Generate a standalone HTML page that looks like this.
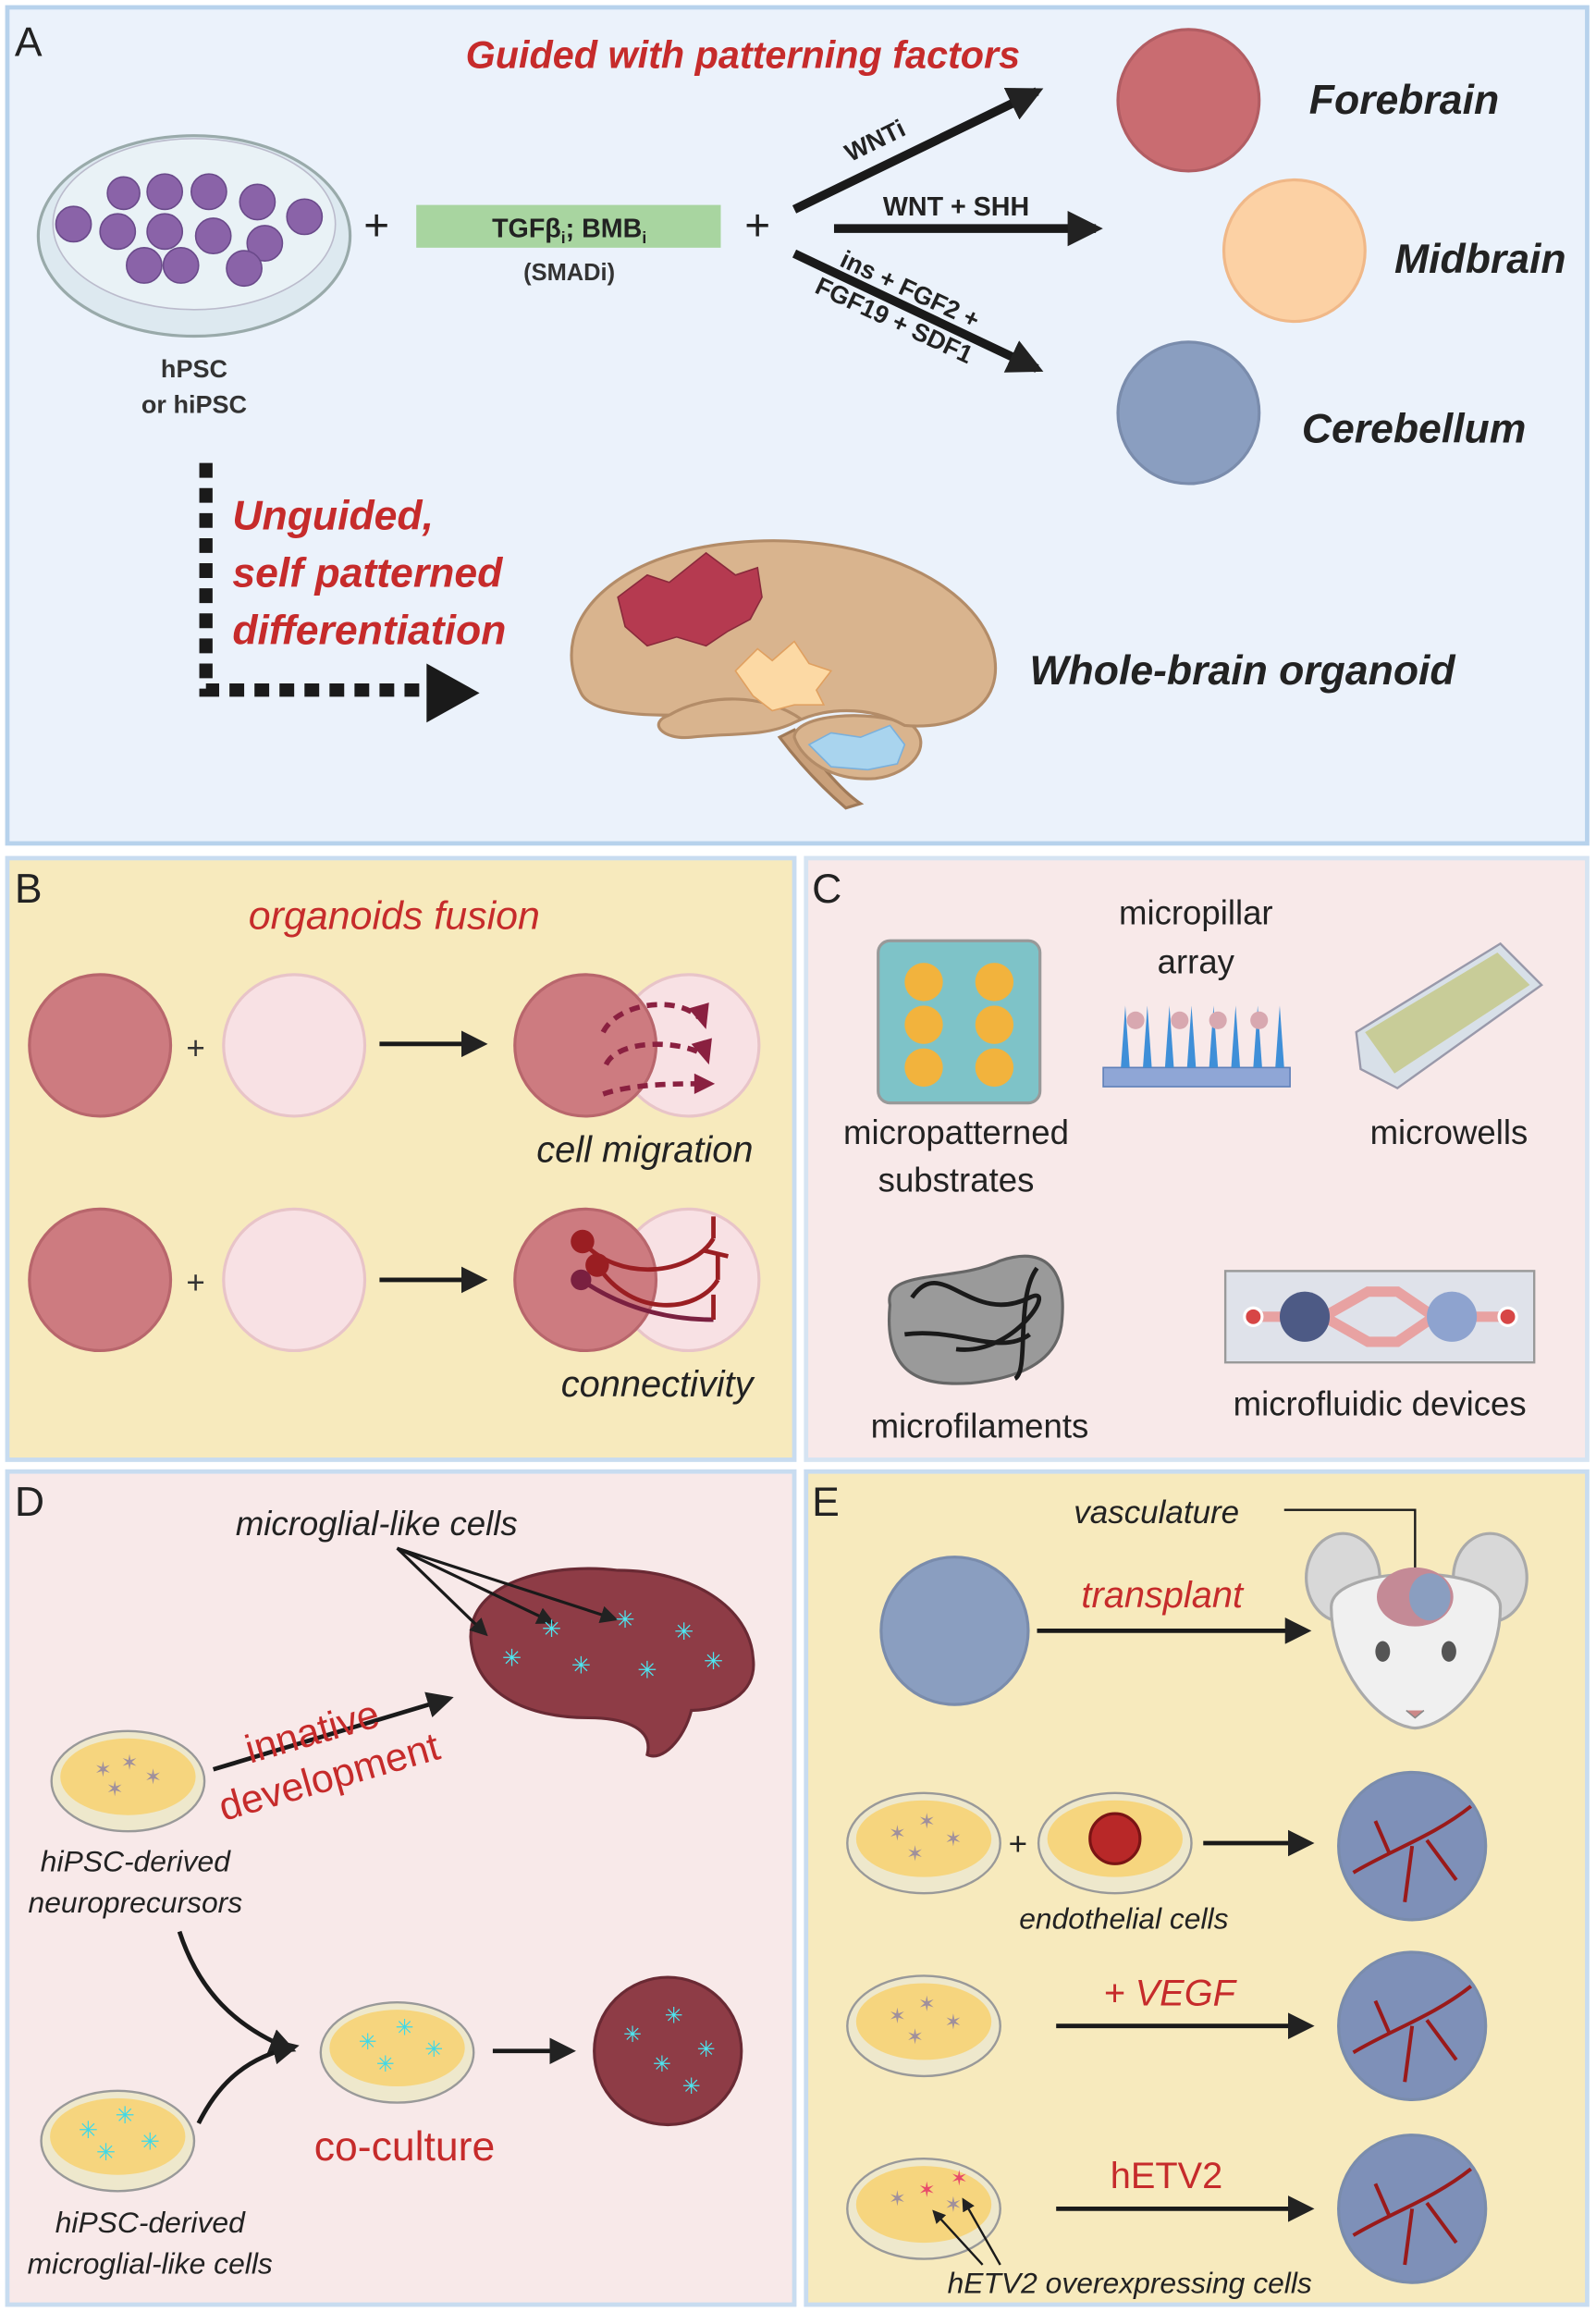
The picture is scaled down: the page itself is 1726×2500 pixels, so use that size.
<!DOCTYPE html>
<html><head><meta charset="utf-8"><style>html,body{margin:0;padding:0;background:#fff}svg{display:block}text{font-family:"Liberation Sans",sans-serif}</style></head><body>
<svg width="1726" height="2500" viewBox="0 0 1085 1568" preserveAspectRatio="none" xmlns="http://www.w3.org/2000/svg">
<defs>
<marker id="ah" viewBox="0 0 10 10" refX="8" refY="5" markerWidth="4" markerHeight="4" orient="auto"><path d="M0,0L10,5L0,10z" fill="#222"/></marker>
<marker id="ah2" viewBox="0 0 10 10" refX="8" refY="5" markerWidth="6" markerHeight="6" orient="auto"><path d="M0,0L10,5L0,10z" fill="#222"/></marker>
</defs>
<rect x="5" y="5" width="1074" height="567" fill="#ebf2fb" stroke="#b7d2ec" stroke-width="3"/>
<rect x="5" y="582" width="535" height="408" fill="#f7eabd" stroke="#c8dcf0" stroke-width="3"/>
<rect x="548" y="582" width="531" height="408" fill="#f8e9e9" stroke="#d6e4f2" stroke-width="3"/>
<rect x="5" y="998" width="535" height="565" fill="#f8e9e9" stroke="#c8dcf0" stroke-width="3"/>
<rect x="548" y="998" width="531" height="565" fill="#f7eabd" stroke="#c8dcf0" stroke-width="3"/>
<g font-size="28" fill="#222"><text x="10" y="38">A</text><text x="10" y="612">B</text><text x="552" y="612">C</text><text x="10" y="1028">D</text><text x="552" y="1028">E</text></g>

<text x="505" y="46" font-size="26" font-weight="bold" font-style="italic" fill="#c62b2b" text-anchor="middle">Guided with patterning factors</text>
<ellipse cx="132" cy="160" rx="106" ry="68" fill="#dde9f0" stroke="#9aa" stroke-width="2"/>
<ellipse cx="132" cy="152" rx="96" ry="58" fill="#e9f2f6" stroke="#bbc" stroke-width="1"/>
<g fill="#8a63a8" stroke="#6a4a8a">
<circle cx="50" cy="152" r="12"/><circle cx="80" cy="157" r="12"/><circle cx="112" cy="130" r="12"/><circle cx="142" cy="130" r="12"/><circle cx="175" cy="137" r="12"/><circle cx="207" cy="147" r="12"/><circle cx="112" cy="157" r="12"/><circle cx="145" cy="160" r="12"/><circle cx="180" cy="165" r="12"/><circle cx="98" cy="180" r="12"/><circle cx="123" cy="180" r="12"/><circle cx="166" cy="182" r="12"/><circle cx="84" cy="131" r="11"/></g>
<text x="132" y="256" font-size="17" font-weight="bold" text-anchor="middle" fill="#333">hPSC</text>
<text x="132" y="280" font-size="17" font-weight="bold" text-anchor="middle" fill="#333">or hiPSC</text>
<text x="256" y="163" font-size="30" fill="#222" text-anchor="middle">+</text>
<rect x="283" y="139" width="207" height="29" fill="#a8d5a0"/>
<text x="387" y="161" font-size="18" font-weight="bold" text-anchor="middle" fill="#222">TGFβ<tspan font-size="11" dy="4">i</tspan><tspan dy="-4">; BMB</tspan><tspan font-size="11" dy="4">i</tspan></text>
<text x="387" y="190" font-size="16" font-weight="bold" text-anchor="middle" fill="#333">(SMADi)</text>
<text x="515" y="163" font-size="30" fill="#222" text-anchor="middle">+</text>
<g stroke="#1a1a1a" stroke-width="6" fill="none" marker-end="url(#ah)">
<line x1="540" y1="142" x2="705" y2="62"/>
<line x1="567" y1="155" x2="745" y2="155"/>
<line x1="540" y1="172" x2="705" y2="250"/>
</g>
<text transform="translate(578,110) rotate(-26)" font-size="17" font-weight="bold" fill="#222">WNTi</text>
<text x="650" y="146" font-size="18" font-weight="bold" fill="#222" text-anchor="middle">WNT + SHH</text>
<text transform="translate(570,180) rotate(25)" font-size="17" font-weight="bold" fill="#222">ins + FGF2 +</text>
<text transform="translate(553,198) rotate(25)" font-size="17" font-weight="bold" fill="#222">FGF19 + SDF1</text>
<g stroke-width="2">
<circle cx="808" cy="68" r="48" fill="#c96c71" stroke="#b25d63"/>
<circle cx="880" cy="170" r="48" fill="#fcd1a4" stroke="#f0b888"/>
<circle cx="808" cy="280" r="48" fill="#8a9ec0" stroke="#7a8cac"/></g>
<g font-size="28" font-weight="bold" font-style="italic" fill="#222">
<text x="890" y="77">Forebrain</text><text x="948" y="185">Midbrain</text><text x="885" y="300">Cerebellum</text>
<text x="700" y="464" font-size="28">Whole-brain organoid</text></g>
<g fill="#c62b2b" font-size="28" font-weight="bold" font-style="italic">
<text x="158" y="359">Unguided,</text><text x="158" y="398">self patterned</text><text x="158" y="437">differentiation</text></g>
<path d="M140,314 V468 H300" stroke="#1a1a1a" stroke-width="9" stroke-dasharray="10,7" fill="none"/>
<path d="M290,450 L326,470 L290,490 z" fill="#1a1a1a"/>
<!-- brain -->
<path d="M540,495 C555,515 570,535 585,545 L575,548 C560,535 545,520 530,500z" fill="#c9a07a" stroke="#a07a58" stroke-width="2"/>
<path d="M540,500 C540,485 590,480 620,492 C635,505 620,525 595,528 C565,530 545,515 540,500z" fill="#d9b48e" stroke="#b38c68" stroke-width="2"/>
<path d="M395,470 C370,420 420,375 500,368 C580,360 660,390 675,440 C685,480 650,495 615,492 C590,478 560,480 540,490 C520,500 495,497 470,500 C450,502 440,490 455,485 C420,485 400,480 395,470z" fill="#d9b48e" stroke="#b38c68" stroke-width="2"/>
<path d="M455,485 C480,470 520,470 545,488" fill="none" stroke="#b38c68" stroke-width="2"/>
<polygon points="420,405 440,390 455,395 480,375 500,390 515,385 518,405 510,420 495,428 480,438 460,432 440,438 425,425" fill="#b53a50" stroke="#8a2a3c"/>
<polygon points="500,455 515,440 525,448 540,435 550,450 565,455 555,468 560,478 540,478 525,482 512,472" fill="#fcd9a4" stroke="#e0a060"/>
<polygon points="550,505 565,497 585,500 605,492 615,505 610,518 590,522 565,520" fill="#a9d4ee" stroke="#7ab0dc"/>

<text x="268" y="630" font-size="27" font-style="italic" fill="#c62b2b" text-anchor="middle">organoids fusion</text>
<g stroke-width="2">
<circle cx="68" cy="709" r="48" fill="#cd7b80" stroke="#b8666c"/>
<circle cx="200" cy="709" r="48" fill="#f8e1e4" stroke="#e8c4c8"/>
<circle cx="468" cy="709" r="48" fill="#f8e1e4" stroke="#e8c4c8"/>
<circle cx="398" cy="709" r="48" fill="#cd7b80" stroke="#b8666c"/>
<circle cx="68" cy="868" r="48" fill="#cd7b80" stroke="#b8666c"/>
<circle cx="200" cy="868" r="48" fill="#f8e1e4" stroke="#e8c4c8"/>
<circle cx="468" cy="868" r="48" fill="#f8e1e4" stroke="#e8c4c8"/>
<circle cx="398" cy="868" r="48" fill="#cd7b80" stroke="#b8666c"/></g>
<g fill="none" stroke="#8a2040" stroke-width="3.5" stroke-dasharray="7,5">
<path d="M410,700 C420,680 460,675 475,690"/><path d="M412,722 C420,705 460,705 478,715"/><path d="M410,742 C430,735 460,735 478,735"/></g>
<g fill="#8a2040"><path d="M468,684 L482,680 L480,698z"/><path d="M470,708 L484,704 L482,722z"/><path d="M472,728 L486,735 L472,742z"/></g>
<text x="133" y="718" font-size="22" text-anchor="middle" fill="#333">+</text>
<text x="133" y="877" font-size="22" text-anchor="middle" fill="#333">+</text>
<g stroke="#1a1a1a" stroke-width="3" marker-end="url(#ah2)"><line x1="258" y1="708" x2="328" y2="708"/><line x1="258" y1="868" x2="328" y2="868"/></g>
<g fill="none" stroke="#9a1e22" stroke-width="3"><path d="M396,842 C420,870 470,865 485,840"/><path d="M406,858 C430,895 475,890 488,868"/><path d="M395,868 C420,885 450,895 485,895" stroke="#7a2040"/>
<path d="M485,840 L485,825 M478,848 L495,852 M488,868 L488,850 M485,895 L485,878"/></g>
<circle cx="396" cy="842" r="8" fill="#9a1e22"/><circle cx="406" cy="858" r="8" fill="#9a1e22"/><circle cx="395" cy="868" r="7" fill="#7a2040"/>
<text x="512" y="788" font-size="25" font-style="italic" fill="#222" text-anchor="end">cell migration</text>
<text x="512" y="947" font-size="25" font-style="italic" fill="#222" text-anchor="end">connectivity</text>

<rect x="597" y="638" width="110" height="110" rx="8" fill="#7ec3c8" stroke="#999" stroke-width="2"/>
<g fill="#f2b33d"><circle cx="628" cy="666" r="13"/><circle cx="676" cy="666" r="13"/><circle cx="628" cy="695" r="13"/><circle cx="676" cy="695" r="13"/><circle cx="628" cy="724" r="13"/><circle cx="676" cy="724" r="13"/></g>
<text x="650" y="776" font-size="23" text-anchor="middle" fill="#222">micropatterned</text>
<text x="650" y="808" font-size="23" text-anchor="middle" fill="#222">substrates</text>
<text x="813" y="627" font-size="23" text-anchor="middle" fill="#222">micropillar</text>
<text x="813" y="660" font-size="23" text-anchor="middle" fill="#222">array</text>
<rect x="750" y="724" width="127" height="13" fill="#8fa6d6" stroke="#5e7fb8"/>
<g fill="#3f8fd8"><path d="M762,724 l3,-42 l3,42z"/><path d="M777,724 l3,-42 l3,42z"/><path d="M792,724 l3,-42 l3,42z"/><path d="M807,724 l3,-42 l3,42z"/><path d="M822,724 l3,-42 l3,42z"/><path d="M837,724 l3,-42 l3,42z"/><path d="M852,724 l3,-42 l3,42z"/><path d="M867,724 l3,-42 l3,42z"/></g>
<g fill="#d8a8b0"><circle cx="772" cy="692" r="6"/><circle cx="802" cy="692" r="6"/><circle cx="828" cy="692" r="6"/><circle cx="856" cy="692" r="6"/></g>
<polygon points="922,700 1020,640 1048,668 950,738 925,725" fill="#d8e0e8" stroke="#99a" stroke-width="1.5"/>
<polygon points="928,700 1018,646 1040,668 948,728" fill="#c8cc98"/>
<text x="985" y="776" font-size="23" text-anchor="middle" fill="#222">microwells</text>
<path d="M605,885 C600,860 650,870 680,855 C710,845 725,860 722,895 C720,925 690,935 660,938 C630,940 600,935 605,885z" fill="#9a9a9a" stroke="#666" stroke-width="2"/>
<g fill="none" stroke="#1a1a1a" stroke-width="3"><path d="M620,880 C640,850 660,900 700,880 C720,870 690,920 650,915"/><path d="M705,860 C690,880 700,930 690,935"/><path d="M615,905 C650,900 680,920 700,905"/></g>
<text x="666" y="975" font-size="23" text-anchor="middle" fill="#222">microfilaments</text>
<rect x="833" y="862" width="210" height="62" fill="#dfe2ea" stroke="#999" stroke-width="1.5"/>
<path d="M852,893 H900 L930,876 H950 L975,893 L950,910 H930 L900,893" fill="none" stroke="#e8a2a2" stroke-width="7"/>
<path d="M975,893 H1025" stroke="#e8a2a2" stroke-width="7"/>
<circle cx="852" cy="893" r="6" fill="#d74646" stroke="#fff" stroke-width="2"/><circle cx="1025" cy="893" r="6" fill="#d74646" stroke="#fff" stroke-width="2"/>
<circle cx="887" cy="893" r="17" fill="#4d5a85"/><circle cx="987" cy="893" r="17" fill="#8ea3cf"/>
<text x="938" y="960" font-size="23" text-anchor="middle" fill="#222">microfluidic devices</text>

<text x="256" y="1041" font-size="23" font-style="italic" fill="#222" text-anchor="middle">microglial-like cells</text>
<path d="M320,1110 C320,1070 380,1060 420,1065 C470,1065 510,1090 512,1125 C515,1150 490,1160 470,1160 C465,1180 450,1195 440,1190 C445,1170 420,1165 400,1165 C360,1165 322,1150 320,1110z" fill="#8e3c46" stroke="#6a2a34" stroke-width="2"/>
<g stroke="#1a1a1a" stroke-width="2" marker-end="url(#ah2)"><line x1="270" y1="1050" x2="330" y2="1108"/><line x1="270" y1="1050" x2="375" y2="1100"/><line x1="270" y1="1050" x2="418" y2="1098"/></g>
<g fill="#4de6f0" font-size="16" text-anchor="middle"><text x="348" y="1130">✳</text><text x="375" y="1110">✳</text><text x="425" y="1104">✳</text><text x="465" y="1112">✳</text><text x="395" y="1135">✳</text><text x="440" y="1138">✳</text><text x="485" y="1132">✳</text></g>
<ellipse cx="87" cy="1208" rx="52" ry="34" fill="#eee8cc" stroke="#999" stroke-width="1.5"/>
<ellipse cx="87" cy="1205" rx="46" ry="26" fill="#f6d57e"/>
<g fill="#a0909c" font-size="14" text-anchor="middle"><text x="70" y="1205">✶</text><text x="88" y="1200">✶</text><text x="104" y="1210">✶</text><text x="78" y="1218">✶</text></g>
<text x="92" y="1269" font-size="20" font-style="italic" fill="#222" text-anchor="middle">hiPSC-derived</text>
<text x="92" y="1297" font-size="20" font-style="italic" fill="#222" text-anchor="middle">neuroprecursors</text>
<line x1="145" y1="1200" x2="305" y2="1152" stroke="#1a1a1a" stroke-width="3" marker-end="url(#ah2)"/>
<text transform="translate(170,1196) rotate(-16)" font-size="27" fill="#c62b2b">innative</text>
<text transform="translate(152,1235) rotate(-16)" font-size="27" fill="#c62b2b">development</text>
<path d="M122,1310 C135,1350 160,1375 198,1390" stroke="#1a1a1a" stroke-width="3" fill="none" marker-end="url(#ah2)"/>
<path d="M135,1440 C150,1410 170,1395 200,1388" stroke="#1a1a1a" stroke-width="3" fill="none" marker-end="url(#ah2)"/>
<ellipse cx="270" cy="1392" rx="52" ry="34" fill="#eee8cc" stroke="#999" stroke-width="1.5"/>
<ellipse cx="270" cy="1389" rx="46" ry="26" fill="#f6d57e"/>
<g fill="#3ed8e8" font-size="15" text-anchor="middle"><text x="250" y="1390">✳</text><text x="275" y="1380">✳</text><text x="295" y="1395">✳</text><text x="262" y="1405">✳</text></g>
<ellipse cx="80" cy="1452" rx="52" ry="34" fill="#eee8cc" stroke="#999" stroke-width="1.5"/>
<ellipse cx="80" cy="1449" rx="46" ry="26" fill="#f6d57e"/>
<g fill="#3ed8e8" font-size="16" text-anchor="middle"><text x="60" y="1450">✳</text><text x="85" y="1440">✳</text><text x="102" y="1458">✳</text><text x="72" y="1465">✳</text></g>
<text x="102" y="1514" font-size="20" font-style="italic" fill="#222" text-anchor="middle">hiPSC-derived</text>
<text x="102" y="1542" font-size="20" font-style="italic" fill="#222" text-anchor="middle">microglial-like cells</text>
<line x1="335" y1="1391" x2="388" y2="1391" stroke="#1a1a1a" stroke-width="3" marker-end="url(#ah2)"/>
<circle cx="454" cy="1391" r="50" fill="#8e3c46" stroke="#6a2a34" stroke-width="2"/>
<g fill="#4de6f0" font-size="15" text-anchor="middle"><text x="430" y="1385">✳</text><text x="458" y="1372">✳</text><text x="480" y="1395">✳</text><text x="450" y="1405">✳</text><text x="470" y="1420">✳</text></g>
<text x="275" y="1465" font-size="28" fill="#c62b2b" text-anchor="middle">co-culture</text>

<text x="730" y="1033" font-size="22" font-style="italic" fill="#222">vasculature</text>
<path d="M873,1024 H962 V1072" stroke="#1a1a1a" stroke-width="1.5" fill="none" marker-end="url(#ah2)"/>
<circle cx="649" cy="1106" r="50" fill="#8a9ec0" stroke="#7a8cac" stroke-width="2"/>
<text x="790" y="1090" font-size="25" font-style="italic" fill="#c62b2b" text-anchor="middle">transplant</text>
<line x1="705" y1="1106" x2="888" y2="1106" stroke="#1a1a1a" stroke-width="3" marker-end="url(#ah2)"/>
<ellipse cx="913" cy="1070" rx="25" ry="30" fill="#d8d8d8" stroke="#aaa" stroke-width="2"/>
<ellipse cx="1013" cy="1070" rx="25" ry="30" fill="#d8d8d8" stroke="#aaa" stroke-width="2"/>
<path d="M905,1090 C905,1060 1020,1060 1020,1090 C1020,1130 990,1170 962,1172 C935,1170 905,1130 905,1090z" fill="#f0f0f0" stroke="#aaa" stroke-width="2"/>
<ellipse cx="962" cy="1083" rx="26" ry="20" fill="#c48a96"/>
<ellipse cx="972" cy="1083" rx="14" ry="16" fill="#8a9ec0"/>
<ellipse cx="940" cy="1120" rx="5" ry="7" fill="#555"/><ellipse cx="985" cy="1120" rx="5" ry="7" fill="#555"/>
<path d="M956,1160 l6,5 l6,-5" fill="#c88" stroke="#888"/>
<ellipse cx="628" cy="1250" rx="52" ry="34" fill="#eee8cc" stroke="#999" stroke-width="1.5"/>
<ellipse cx="628" cy="1247" rx="46" ry="26" fill="#f6d57e"/>
<g fill="#a0909c" font-size="14" text-anchor="middle"><text x="610" y="1248">✶</text><text x="630" y="1240">✶</text><text x="648" y="1252">✶</text><text x="622" y="1262">✶</text></g>
<text x="692" y="1258" font-size="22" fill="#222" text-anchor="middle">+</text>
<ellipse cx="758" cy="1250" rx="52" ry="34" fill="#eee8cc" stroke="#999" stroke-width="1.5"/>
<ellipse cx="758" cy="1247" rx="46" ry="26" fill="#f6d57e"/>
<circle cx="758" cy="1247" r="17" fill="#b82828" stroke="#7a1414" stroke-width="2"/>
<text x="764" y="1308" font-size="20" font-style="italic" fill="#222" text-anchor="middle">endothelial cells</text>
<line x1="818" y1="1250" x2="890" y2="1250" stroke="#1a1a1a" stroke-width="3" marker-end="url(#ah2)"/>
<g stroke="#7a8cac" stroke-width="2" fill="#7e90b8"><circle cx="960" cy="1252" r="50"/><circle cx="960" cy="1374" r="50"/><circle cx="960" cy="1498" r="50"/></g>
<g fill="none" stroke="#9a1a1a" stroke-width="2.5">
<path d="M920,1270 C945,1255 975,1245 1000,1225 M945,1258 L935,1235 M970,1248 L990,1275 M960,1252 L955,1290"/>
<path d="M920,1392 C945,1377 975,1367 1000,1347 M945,1380 L935,1357 M970,1370 L990,1397 M960,1374 L955,1412"/>
<path d="M920,1516 C945,1501 975,1491 1000,1471 M945,1504 L935,1481 M970,1494 L990,1521 M960,1498 L955,1536"/></g>
<ellipse cx="628" cy="1374" rx="52" ry="34" fill="#eee8cc" stroke="#999" stroke-width="1.5"/>
<ellipse cx="628" cy="1371" rx="46" ry="26" fill="#f6d57e"/>
<g fill="#a0909c" font-size="14" text-anchor="middle"><text x="610" y="1372">✶</text><text x="630" y="1364">✶</text><text x="648" y="1376">✶</text><text x="622" y="1386">✶</text></g>
<text x="795" y="1360" font-size="25" font-style="italic" fill="#c62b2b" text-anchor="middle">+ VEGF</text>
<line x1="718" y1="1374" x2="890" y2="1374" stroke="#1a1a1a" stroke-width="3" marker-end="url(#ah2)"/>
<ellipse cx="628" cy="1498" rx="52" ry="34" fill="#eee8cc" stroke="#999" stroke-width="1.5"/>
<ellipse cx="628" cy="1495" rx="46" ry="26" fill="#f6d57e"/>
<g fill="#a0909c" font-size="14" text-anchor="middle"><text x="610" y="1496">✶</text><text x="648" y="1500">✶</text></g>
<g fill="#e84a6a" font-size="14" text-anchor="middle"><text x="630" y="1490">✶</text><text x="652" y="1482">✶</text></g>
<text x="793" y="1484" font-size="25" fill="#c62b2b" text-anchor="middle">hETV2</text>
<line x1="718" y1="1498" x2="890" y2="1498" stroke="#1a1a1a" stroke-width="3" marker-end="url(#ah2)"/>
<g stroke="#1a1a1a" stroke-width="1.5" marker-end="url(#ah2)"><line x1="668" y1="1536" x2="635" y2="1500"/><line x1="680" y1="1536" x2="655" y2="1492"/></g>
<text x="768" y="1555" font-size="20" font-style="italic" fill="#222" text-anchor="middle">hETV2 overexpressing cells</text>
</svg>
</body></html>
